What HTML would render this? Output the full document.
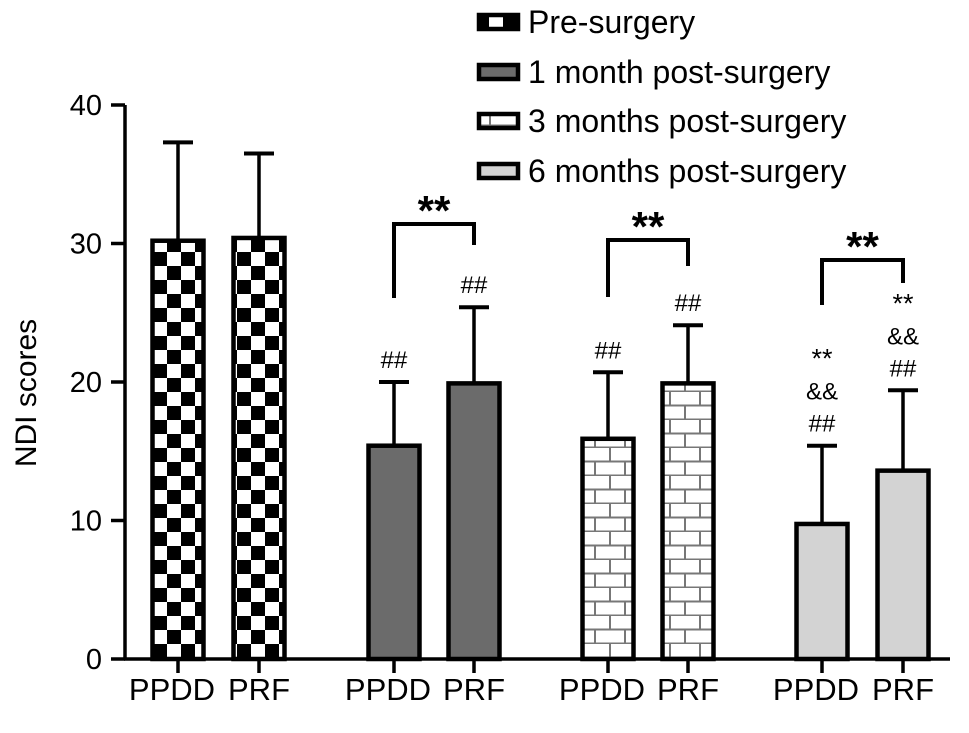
<!DOCTYPE html>
<html><head><meta charset="utf-8"><style>
body{margin:0;background:#fff;}
svg{display:block;font-family:"Liberation Sans",Arial,sans-serif;}
</style></head><body>
<svg id="chart" width="969" height="733" viewBox="0 0 969 733">
<defs>
<pattern id="pCheck" width="28" height="28" patternUnits="userSpaceOnUse" x="153" y="0">
<rect width="28" height="28" fill="#fff"/><rect x="0" y="0" width="14" height="14" fill="#000"/><rect x="14" y="14" width="14" height="14" fill="#000"/>
</pattern>
<pattern id="pBrick" width="30" height="28" patternUnits="userSpaceOnUse">
<rect width="30" height="28" fill="#fff"/>
<path d="M0 13.5H30M0 27.5H30M10 0V14M25 14V28" stroke="#777" stroke-width="2" fill="none"/>
</pattern>
</defs>
<g id="plot"></g>
</svg>
<script>
const groups = ["Pre-surgery","1 month post-surgery","3 months post-surgery","6 months post-surgery"];
const categories = ["PPDD","PRF"];
const means = [[30.2,30.4],[15.4,19.9],[15.9,19.9],[9.75,13.6]];
const errs = [[7.1,6.1],[4.6,5.5],[4.8,4.2],[5.65,5.8]];
const yTicks = [0,10,20,30,40];
const annots = [[[],[]],[["##"],["##"]],[["##"],["##"]],[["**","&&","##"],["**","&&","##"]]];

const NS="http://www.w3.org/2000/svg";
const g=document.getElementById('plot');
function el(t,a,txt){const e=document.createElementNS(NS,t);for(const k in a)e.setAttribute(k,a[k]);if(txt!==undefined)e.textContent=txt;g.appendChild(e);return e;}
const y0=659, y40=105;
function y(v){return y0-(v/40)*(y0-y40);}
const barCenters=[[178,259],[394,474],[608,688],[822,903]];
const barW=51;
const fills=["url(#pCheck)","#6b6b6b","url(#pBrick)","#d3d3d3"];

let a=el('line',{x1:125,y1:y(40),x2:125,y2:y0+1,stroke:'#000','stroke-width':3.5});

a=el('line',{x1:124,y1:y0,x2:950,y2:y0,stroke:'#000','stroke-width':3.5});

yTicks.forEach(t=>{
 let l=el('line',{x1:111,y1:y(t),x2:125,y2:y(t),stroke:'#000','stroke-width':3.5});
 
 let tx=el('text',{x:102,y:y(t)+10,'text-anchor':'end','font-size':29},String(t));
 
});
let yt=el('text',{x:36,y:393,'text-anchor':'middle','font-size':30,transform:'rotate(-90 36 393)'},'NDI scores');


groups.forEach((gname,gi)=>{
 categories.forEach((c,ci)=>{
  const cx=barCenters[gi][ci], m=means[gi][ci], e=errs[gi][ci];
  let er=el('line',{x1:cx,y1:y(m),x2:cx,y2:y(m+e),stroke:'#000','stroke-width':3.5});
  
  let cap=el('line',{x1:cx-15,y1:y(m+e),x2:cx+15,y2:y(m+e),stroke:'#000','stroke-width':4});
  
  let r=el('rect',{x:cx-barW/2,y:y(m),width:barW,height:y0-y(m),fill:fills[gi],stroke:'#000','stroke-width':4.5});
  
  let tk=el('line',{x1:cx,y1:y0,x2:cx,y2:y0+14,stroke:'#000','stroke-width':3.5});
  
  let lb=el('text',{x:cx-(ci===0?6:0),y:700,'text-anchor':'middle','font-size':31},c);
  
  const an=annots[gi][ci];
  an.forEach((s,k)=>{
   const yy=y(m+e)-14-(an.length-1-k)*32;
   let at=el('text',{x:cx,y:yy,'text-anchor':'middle','font-size':s==='**'?27:24},s);
   
  });
 });
 if(gi>0){
  const L=barCenters[gi][0],R=barCenters[gi][1];
  const top=[0,224,240,260][gi];
  let p=el('path',{d:`M${L} ${[0,298,297,305][gi]}V${top}H${R}V${[0,245,266,283][gi]}`,stroke:'#000','stroke-width':4,fill:'none'});
  
  let s=el('text',{x:(L+R)/2,y:top+1,'text-anchor':'middle','font-size':42,'font-weight':'bold'},'**');
  
 }
});

const legY=[22,72,121,171];
groups.forEach((gname,i)=>{
 let b=el('rect',{x:479,y:legY[i]-7,width:39,height:14,fill:fills[i],stroke:'#000','stroke-width':4.5});
 
 let t=el('text',{x:528,y:legY[i]+11,'font-size':32},gname);
 
});
</script>
</body></html>
